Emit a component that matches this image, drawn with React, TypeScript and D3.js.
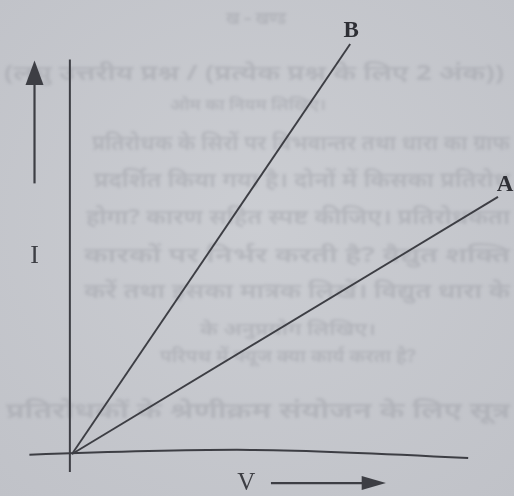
import React from "react";
import * as d3 from "d3";

// I–V characteristic of two conductors A and B (straight lines through origin)
const seriesNames = ["A", "B"];
const voltage = [[0, 10], [0, 6.53]];
const current = [[0, 6.27], [0, 10]];

const xLabel = "V";
const yLabel = "I";

// faint print showing through from the other side of the page
const ghostLines = [
  { text: "ख – खण्ड", y: 24, x0: 226, x1: 290, size: 18 },
  { text: "(लघु उत्तरीय प्रश्न / (प्रत्येक प्रश्न के लिए 2 अंक))", y: 80, x0: 4, x1: 508, size: 21 },
  { text: "ओम का नियम लिखिए।", y: 110, x0: 170, x1: 330, size: 16 },
  { text: "प्रतिरोधक के सिरों पर विभवान्तर तथा धारा का ग्राफ", y: 150, x0: 92, x1: 514, size: 21 },
  { text: "प्रदर्शित किया गया है। दोनों में किसका प्रतिरोध", y: 187, x0: 94, x1: 514, size: 21 },
  { text: "होगा? कारण सहित स्पष्ट कीजिए। प्रतिरोधकता", y: 224, x0: 86, x1: 514, size: 21 },
  { text: "कारकों पर निर्भर करती है? वैद्युत शक्ति", y: 262, x0: 84, x1: 514, size: 21 },
  { text: "करें तथा इसका मात्रक लिखें। विद्युत धारा के", y: 298, x0: 84, x1: 514, size: 21 },
  { text: "के अनुप्रयोग लिखिए।", y: 335, x0: 200, x1: 380, size: 17 },
  { text: "परिपथ में फ्यूज क्या कार्य करता है?", y: 362, x0: 160, x1: 420, size: 17 },
  { text: "प्रतिरोधकों के श्रेणीक्रम संयोजन के लिए सूत्र", y: 418, x0: 6, x1: 514, size: 22 },
];

export default function App() {
  const width = 514;
  const height = 496;

  const x = d3.scaleLinear().domain([0, 10]).range([72, 498]);
  const y = d3.scaleLinear().domain([0, 10]).range([454, 44]);

  const lineGen = d3
    .line<[number, number]>()
    .x((d) => x(d[0]))
    .y((d) => y(d[1]));

  // hand drawn horizontal axis, bowed slightly upward in the middle
  const axisPts: [number, number][] = [
    [x(-1), y(-0.02)],
    [x(4.2), y(0.1)],
    [x(9.3), y(-0.1)],
  ];
  const axisPath = d3.line().curve(d3.curveNatural)(axisPts);

  const ink = "#3d3e44";

  return (
    <svg
      width={width}
      height={height}
      style={{ position: "fixed", left: 0, top: 0 }}
    >
      <defs>
        <filter id="blur" x="-5%" y="-50%" width="110%" height="200%">
          <feGaussianBlur stdDeviation="1.6" />
        </filter>
        <radialGradient id="paper" cx="50%" cy="45%" r="75%">
          <stop offset="0%" stopColor="#cbcdd2" />
          <stop offset="100%" stopColor="#c0c2c8" />
        </radialGradient>
      </defs>
      <rect width={width} height={height} fill="url(#paper)" />

      <g filter="url(#blur)" fill="#8e9098" opacity={0.33}
         fontFamily="'Noto Sans', sans-serif" fontWeight="bold">
        {ghostLines.map((g, i) => (
          <text key={i} x={g.x0} y={g.y} fontSize={g.size}
                textLength={g.x1 - g.x0 - 4} lengthAdjust="spacingAndGlyphs">
            {g.text}
          </text>
        ))}
      </g>

      {/* axes */}
      <line x1={x(-0.05)} x2={x(-0.05)} y1={y(9.62)} y2={y(-0.44)}
            stroke={ink} strokeWidth={2} />
      <path d={axisPath ?? ""} fill="none" stroke={ink} strokeWidth={2} />

      {/* I and V arrows */}
      <line x1={x(-0.88)} x2={x(-0.88)} y1={y(6.6)} y2={y(9.3)} stroke={ink} strokeWidth={2.2} />
      <path d={d3.line()([[x(-0.88) - 9, y(9.0)], [x(-0.88), y(9.6)], [x(-0.88) + 9, y(9.0)]]) + "Z"}
            fill={ink} />
      <line x1={x(4.67)} x2={x(6.9)} y1={y(-0.71)} y2={y(-0.71)} stroke={ink} strokeWidth={2.2} />
      <path d={d3.line()([[x(6.8), y(-0.71) - 7], [x(7.37), y(-0.71)], [x(6.8), y(-0.71) + 7]]) + "Z"}
            fill={ink} />

      <text x={x(-0.88)} y={y(4.65)} textAnchor="middle" fontSize={26}
            fontFamily="'Liberation Serif', serif" fill={ink}>{yLabel}</text>
      <text x={x(4.09)} y={y(-0.87)} textAnchor="middle" fontSize={25}
            fontFamily="'Liberation Serif', serif" fill={ink}>{xLabel}</text>

      {/* characteristic lines */}
      {seriesNames.map((name, i) => {
        const pts = voltage[i].map((v, j) => [v, current[i][j]] as [number, number]);
        const end = pts[pts.length - 1];
        return (
          <g key={name}>
            <path d={lineGen(pts) ?? ""} fill="none" stroke={ink} strokeWidth={1.9} />
            <text
              x={x(end[0]) + (name === "A" ? 7 : 1)}
              y={y(end[1]) + (name === "A" ? -6 : -7)}
              textAnchor="middle"
              fontSize={23}
              fontWeight="bold"
              fontFamily="'Liberation Serif', serif"
              fill="#2e2f35"
            >
              {name}
            </text>
          </g>
        );
      })}
    </svg>
  );
}
